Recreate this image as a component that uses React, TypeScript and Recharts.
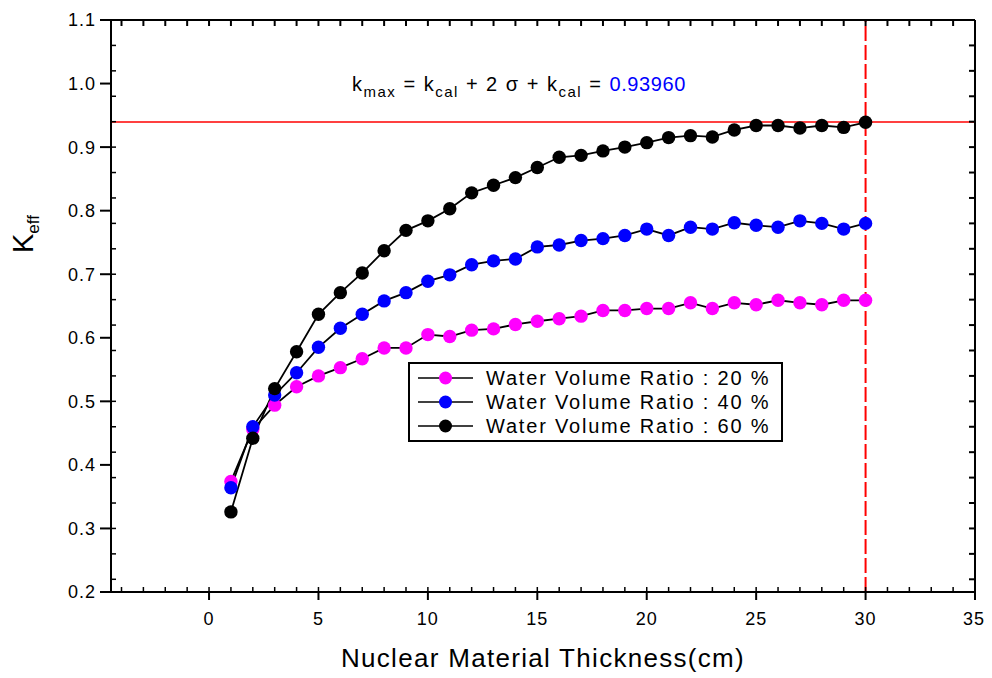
import React from 'react';
import { LineChart, Line, XAxis, YAxis, ReferenceLine, Legend } from 'recharts';

// thickness of nuclear material (cm)
const thickness = [1, 2, 3, 4, 5, 6, 7, 8, 9, 10, 11, 12, 13, 14, 15, 16, 17, 18, 19, 20, 21, 22, 23, 24, 25, 26, 27, 28, 29, 30];

// Keff per water volume ratio
const ratio20 = [0.374, 0.456, 0.494, 0.523, 0.540, 0.553, 0.567, 0.584, 0.584, 0.605,
  0.602, 0.612, 0.614, 0.621, 0.626, 0.630, 0.634, 0.643, 0.643, 0.646,
  0.646, 0.655, 0.646, 0.655, 0.652, 0.659, 0.655, 0.652, 0.659, 0.659];
const ratio40 = [0.364, 0.460, 0.510, 0.545, 0.585, 0.615, 0.637, 0.658, 0.671, 0.689,
  0.699, 0.715, 0.721, 0.724, 0.743, 0.746, 0.753, 0.756, 0.761, 0.771,
  0.761, 0.774, 0.771, 0.781, 0.777, 0.774, 0.784, 0.780, 0.771, 0.780];
const ratio60 = [0.326, 0.442, 0.520, 0.578, 0.637, 0.671, 0.702, 0.737, 0.769, 0.784,
  0.803, 0.828, 0.840, 0.852, 0.868, 0.884, 0.887, 0.894, 0.900, 0.907,
  0.915, 0.918, 0.916, 0.927, 0.934, 0.934, 0.930, 0.934, 0.931, 0.939];

const seriesNames = ['Water Volume Ratio : 20 %', 'Water Volume Ratio : 40 %', 'Water Volume Ratio : 60 %'];
const seriesColors = ['#ff00ff', '#0000ff', '#000000'];

const kMax = 0.9396;
const kMaxText = '0.93960';
const limitThickness = 30;

const xTicks = [0, 5, 10, 15, 20, 25, 30, 35];
const yTicks = [0.2, 0.3, 0.4, 0.5, 0.6, 0.7, 0.8, 0.9, 1.0, 1.1];

const range = (start: number, count: number, step: number) =>
  Array.from({ length: count }, (_, i) => +(start + i * step).toFixed(3));
const xMinorTicks = range(-4, 40, 1);
const yMinorTicks = range(0.2, 46, 0.02);

const data = thickness.map((t, i) => ({
  x: t,
  k20: ratio20[i],
  k40: ratio40[i],
  k60: ratio60[i],
}));

const keys = ['k20', 'k40', 'k60'];

const xDomain = [-4.48, 35];
const yDomain = [0.2, 1.1];

const FONT = '"Liberation Sans", Arial, sans-serif';

// tick marks only, no text
const NoLabel = () => <g />;

const KeffLabel = (props: any) => {
  const { viewBox } = props;
  const x = viewBox.x - 18;
  const y = viewBox.y + 214;
  return (
    <text x={x} y={y} transform={`rotate(-90, ${x}, ${y})`} textAnchor="middle" fill="#000" fontSize={29} fontFamily={FONT}>
      K<tspan fontSize={17} dy={6}>eff</tspan>
    </text>
  );
};

const KmaxLabel = (props: any) => {
  const { viewBox } = props;
  const x = viewBox.x + 241;
  const y = viewBox.y - 31;
  return (
    <text x={x} y={y} fill="#000" fontSize={20} fontFamily={FONT} letterSpacing={1.5}>
      k<tspan fontSize={15} dy={6}>max</tspan>
      <tspan dy={-6}> = k</tspan><tspan fontSize={15} dy={6}>cal</tspan>
      <tspan dy={-6}> + 2 σ + k</tspan><tspan fontSize={15} dy={6}>cal</tspan>
      <tspan dy={-6}> = </tspan><tspan fill="#0000ff" letterSpacing={0.6}>{kMaxText}</tspan>
    </text>
  );
};

const LegendBox = (props: any) => {
  const payload = (props.payload || []).filter((e: any) => seriesNames.includes(e.value));
  return (
    <div style={{ border: '2px solid #000', background: '#fff', boxSizing: 'border-box', width: 375, padding: '2px 8px', fontFamily: FONT }}>
      {payload.map((entry: any, i: number) => {
        const idx = seriesNames.indexOf(entry.value);
        return (
          <div key={i} style={{ display: 'flex', alignItems: 'center', height: 24 }}>
            <svg width={55} height={16} style={{ display: 'block' }}>
              <line x1={0} y1={8} x2={55} y2={8} stroke="#000" strokeWidth={1.5} />
              <circle cx={27.5} cy={8} r={6.5} fill={seriesColors[idx]} />
            </svg>
            <span style={{ marginLeft: 13, fontSize: 20, letterSpacing: 1.8, color: '#000', whiteSpace: 'nowrap' }}>{entry.value}</span>
          </div>
        );
      })}
    </div>
  );
};

const App: React.FC = () => {
  return (
    <div style={{ fontFamily: FONT }}>
      <LineChart width={976} height={670} data={data} margin={{ top: 12, right: 9, bottom: 6, left: 43 }}>
        <XAxis xAxisId="b" dataKey="x" type="number" domain={xDomain} allowDataOverflow ticks={xTicks}
          tickSize={8} tickMargin={12} stroke="#000" strokeWidth={2} height={80}
          tick={{ fill: '#000', fontSize: 18, letterSpacing: 1 }}
          label={{ value: 'Nuclear Material Thickness(cm)', position: 'insideBottom', offset: 5, fill: '#000', fontSize: 26, letterSpacing: 1.3 }} />
        <XAxis xAxisId="bm" dataKey="x" type="number" domain={xDomain} allowDataOverflow ticks={xMinorTicks}
          mirror tick={NoLabel} tickSize={5} axisLine={false} stroke="#000" strokeWidth={1.5} height={1} />
        <XAxis xAxisId="t" orientation="top" dataKey="x" type="number" domain={xDomain} allowDataOverflow ticks={xMinorTicks}
          mirror tick={NoLabel} tickSize={6} stroke="#000" strokeWidth={2} height={1} />
        <YAxis yAxisId="l" type="number" domain={yDomain} allowDataOverflow ticks={yTicks} width={60}
          tickSize={11} tickMargin={4} stroke="#000" strokeWidth={2}
          tickFormatter={(v: number) => v.toFixed(1)}
          tick={{ fill: '#000', fontSize: 18, letterSpacing: 1 }}
          label={<KeffLabel />} />
        <YAxis yAxisId="lm" type="number" domain={yDomain} allowDataOverflow ticks={yMinorTicks} width={1}
          mirror tick={NoLabel} tickSize={5} axisLine={false} stroke="#000" strokeWidth={1.5} />
        <YAxis yAxisId="r" orientation="right" type="number" domain={yDomain} allowDataOverflow ticks={yMinorTicks} width={1}
          mirror tick={NoLabel} tickSize={6} stroke="#000" strokeWidth={2} />
        <Legend layout="vertical" align="center" verticalAlign="middle" content={<LegendBox />}
          wrapperStyle={{ left: 400, top: 354, width: 375 }} />
        {/* invisible series so the frame axes get a scale */}
        <Line xAxisId="bm" yAxisId="lm" dataKey="k60" stroke="none" dot={false} activeDot={false} legendType="none" isAnimationActive={false} />
        <Line xAxisId="t" yAxisId="r" dataKey="k60" stroke="none" dot={false} activeDot={false} legendType="none" isAnimationActive={false} />
        {keys.map((k, i) => (
          <Line key={k} xAxisId="b" yAxisId="l" dataKey={k} name={seriesNames[i]} stroke="#000" strokeWidth={1.8}
            dot={{ r: 6.7, fill: seriesColors[i], stroke: 'none' }} isAnimationActive={false} />
        ))}
        <ReferenceLine xAxisId="b" yAxisId="l" y={kMax} stroke="#ff0000" strokeWidth={1.5} label={<KmaxLabel />} />
        <ReferenceLine xAxisId="b" yAxisId="l" x={limitThickness} stroke="#ff0000" strokeWidth={2} strokeDasharray="15 4" />
      </LineChart>
    </div>
  );
};

export default App;
